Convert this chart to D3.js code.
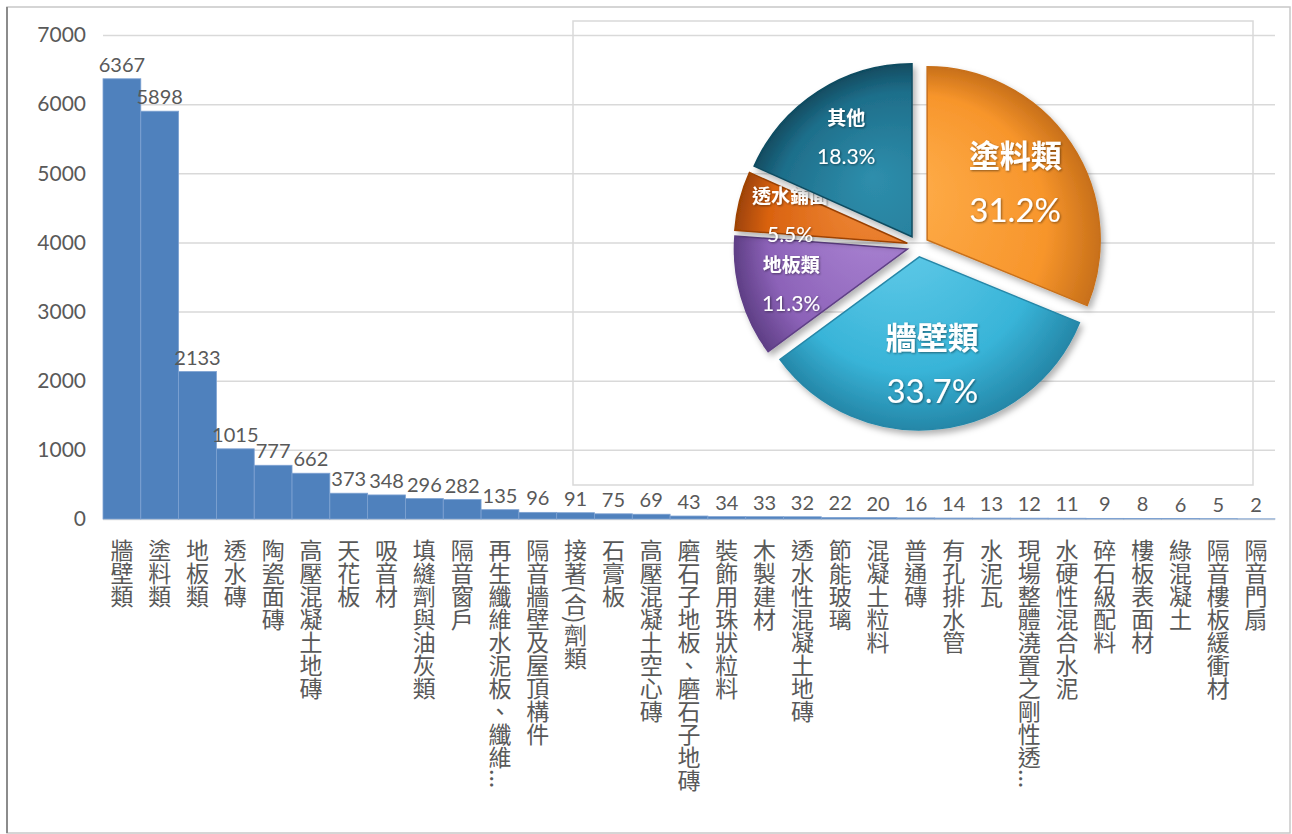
<!DOCTYPE html>
<html>
<head>
<meta charset="utf-8">
<script src="https://cdn.jsdelivr.net/npm/d3@7"></script>
<style>
  body { margin: 0; background: #fff; }
  .vlabel { writing-mode: vertical-rl; text-orientation: mixed; }
</style>
</head>
<body>
<svg id="chart" width="1292" height="834"></svg>
<script>
// bar chart data: building material categories and counts
const categories = [
  "牆壁類", "塗料類", "地板類", "透水磚", "陶瓷面磚", "高壓混凝土地磚", "天花板", "吸音材",
  "填縫劑與油灰類", "隔音窗戶", "再生纖維水泥板、纖維...", "隔音牆壁及屋頂構件", "接著(合)劑類",
  "石膏板", "高壓混凝土空心磚", "磨石子地板、磨石子地磚", "裝飾用珠狀粒料", "木製建材",
  "透水性混凝土地磚", "節能玻璃", "混凝土粒料", "普通磚", "有孔排水管", "水泥瓦",
  "現場整體澆置之剛性透...", "水硬性混合水泥", "碎石級配料", "樓板表面材", "綠混凝土",
  "隔音樓板緩衝材", "隔音門扇"
];
const counts = [6367, 5898, 2133, 1015, 777, 662, 373, 348, 296, 282, 135, 96, 91, 75, 69, 43,
  34, 33, 32, 22, 20, 16, 14, 13, 12, 11, 9, 8, 6, 5, 2];
const yTicks = [0, 1000, 2000, 3000, 4000, 5000, 6000, 7000];

// inset pie data (percent share)
const pieLabels = ["塗料類", "牆壁類", "地板類", "透水鋪面", "其他"];
const pieShares = [31.2, 33.7, 11.3, 5.5, 18.3];

const svg = d3.select("#chart");
const numFont = "Lato, 'Noto Sans', sans-serif";
const cjkFont = "'Noto Sans CJK TC', 'Noto Sans CJK SC', sans-serif";
const grey = "#595959";

// outer frame
svg.append("rect")
  .attr("x", 7).attr("y", 7).attr("width", 1283).attr("height", 826)
  .attr("fill", "none").attr("stroke", "#c8c8c8").attr("stroke-width", 1.5);
svg.append("line")
  .attr("x1", 7).attr("x2", 7).attr("y1", 7).attr("y2", 833)
  .attr("stroke", "#8c8c8c").attr("stroke-width", 2);

// scales
const plotLeft = 103, plotRight = 1275, plotTop = 35, plotBottom = 519;
const x = d3.scaleBand().domain(categories).range([plotLeft, plotRight]).padding(0);
const y = d3.scaleLinear().domain([0, 7000]).range([plotBottom, plotTop]);

// y axis with gridlines
const yAxis = svg.append("g")
  .attr("transform", "translate(" + plotLeft + ",0)")
  .call(d3.axisLeft(y).tickValues(yTicks).tickSize(-(plotRight - plotLeft)).tickPadding(17).tickFormat(d3.format("d")));
yAxis.select(".domain").remove();
yAxis.selectAll("line").attr("stroke", "#d9d9d9").attr("stroke-width", 1.5);
yAxis.selectAll("text")
  .attr("fill", grey)
  .style("font-family", numFont)
  .style("font-size", "21px");

// bars
svg.append("g").selectAll("rect")
  .data(categories)
  .join("rect")
  .attr("x", d => x(d))
  .attr("y", (d, i) => y(counts[i]))
  .attr("width", x.bandwidth())
  .attr("height", (d, i) => plotBottom - y(counts[i]))
  .attr("fill", "#4f81bd")
  .attr("stroke", "#7ea2d2")
  .attr("stroke-width", 0.8);

// value labels
svg.append("g").selectAll("text")
  .data(categories)
  .join("text")
  .attr("x", d => x(d) + x.bandwidth() / 2)
  .attr("y", (d, i) => y(counts[i]) - 7)
  .attr("text-anchor", "middle")
  .attr("fill", grey)
  .style("font-family", numFont)
  .style("font-size", "20px")
  .text((d, i) => counts[i]);

// vertical category labels
svg.append("g").selectAll("text")
  .data(categories)
  .join("text")
  .attr("class", "vlabel")
  .attr("x", d => x(d) + x.bandwidth() / 2)
  .attr("y", 539)
  .attr("fill", grey)
  .style("font-family", cjkFont)
  .style("font-size", "23px")
  .text(d => d);

// pie inset box
svg.append("rect")
  .attr("x", 573).attr("y", 21).attr("width", 680).attr("height", 464)
  .attr("fill", "none").attr("stroke", "#d9d9d9").attr("stroke-width", 1.5);

// pie
const defs = svg.append("defs");
const shadow = defs.append("filter").attr("id", "shadow")
  .attr("x", "-20%").attr("y", "-20%").attr("width", "140%").attr("height", "140%");
shadow.append("feDropShadow").attr("dx", 3).attr("dy", 4).attr("stdDeviation", 3)
  .attr("flood-color", "#000").attr("flood-opacity", 0.3);
const tshadow = defs.append("filter").attr("id", "tshadow");
tshadow.append("feDropShadow").attr("dx", 1).attr("dy", 1).attr("stdDeviation", 0.8)
  .attr("flood-color", "#000").attr("flood-opacity", 0.45);

const sliceColors = [
  { light: "#ffb04e", base: "#f7952b", dark: "#c8701a" },
  { light: "#6fd2ee", base: "#38b4d8", dark: "#2587a8" },
  { light: "#b08ad8", base: "#8c62b8", dark: "#5f3f86" },
  { light: "#f08a3a", base: "#d9620f", dark: "#9e4306" },
  { light: "#2e8eac", base: "#1e6e8a", dark: "#114c61" }
];

const R = 173, explode = 11;
const cx = 918, cy = 246;
sliceColors.forEach((c, i) => {
  const g = defs.append("radialGradient").attr("id", "pg" + i)
    .attr("gradientUnits", "userSpaceOnUse")
    .attr("cx", 0).attr("cy", 0).attr("r", R)
    .attr("fx", -40).attr("fy", -60);
  g.append("stop").attr("offset", "0%").attr("stop-color", c.light);
  g.append("stop").attr("offset", "75%").attr("stop-color", c.base);
  g.append("stop").attr("offset", "100%").attr("stop-color", c.dark);
});

const pie = d3.pie().sort(null).value(d => d);
const arcs = pie(pieShares);
const arc = d3.arc().innerRadius(0).outerRadius(R);

const pg = svg.append("g").attr("transform", "translate(" + cx + "," + cy + ")");
const slices = pg.selectAll("g.slice")
  .data(arcs)
  .join("g")
  .attr("class", "slice")
  .attr("transform", d => {
    const mid = (d.startAngle + d.endAngle) / 2;
    return "translate(" + (Math.sin(mid) * explode) + "," + (-Math.cos(mid) * explode) + ")";
  });

slices.append("path")
  .attr("d", arc)
  .attr("fill", (d, i) => "url(#pg" + i + ")")
  .attr("stroke", (d, i) => sliceColors[i].dark)
  .attr("stroke-width", 1.5)
  .attr("filter", "url(#shadow)");

// slice labels
slices.each(function(d, i) {
  const big = d.value > 25;
  const mid = (d.startAngle + d.endAngle) / 2;
  const lr = big ? 106 : 121;
  const lx = Math.sin(mid) * lr, ly = -Math.cos(mid) * lr;
  const g = d3.select(this).append("g").attr("filter", "url(#tshadow)");
  g.append("text")
    .attr("x", lx).attr("y", ly - (big ? 27 : 19))
    .attr("text-anchor", "middle").attr("dominant-baseline", "central")
    .attr("fill", "#fff")
    .style("font-family", cjkFont)
    .style("font-weight", big ? "bold" : "600")
    .style("font-size", big ? "31px" : "19px")
    .text(pieLabels[i]);
  g.append("text")
    .attr("x", lx).attr("y", ly + (big ? 28 : 20))
    .attr("text-anchor", "middle").attr("dominant-baseline", "central")
    .attr("fill", "#fff")
    .style("font-family", numFont)
    .style("font-size", big ? "33px" : "21px")
    .text(d3.format(".1f")(d.value) + "%");
});
</script>
</body>
</html>
